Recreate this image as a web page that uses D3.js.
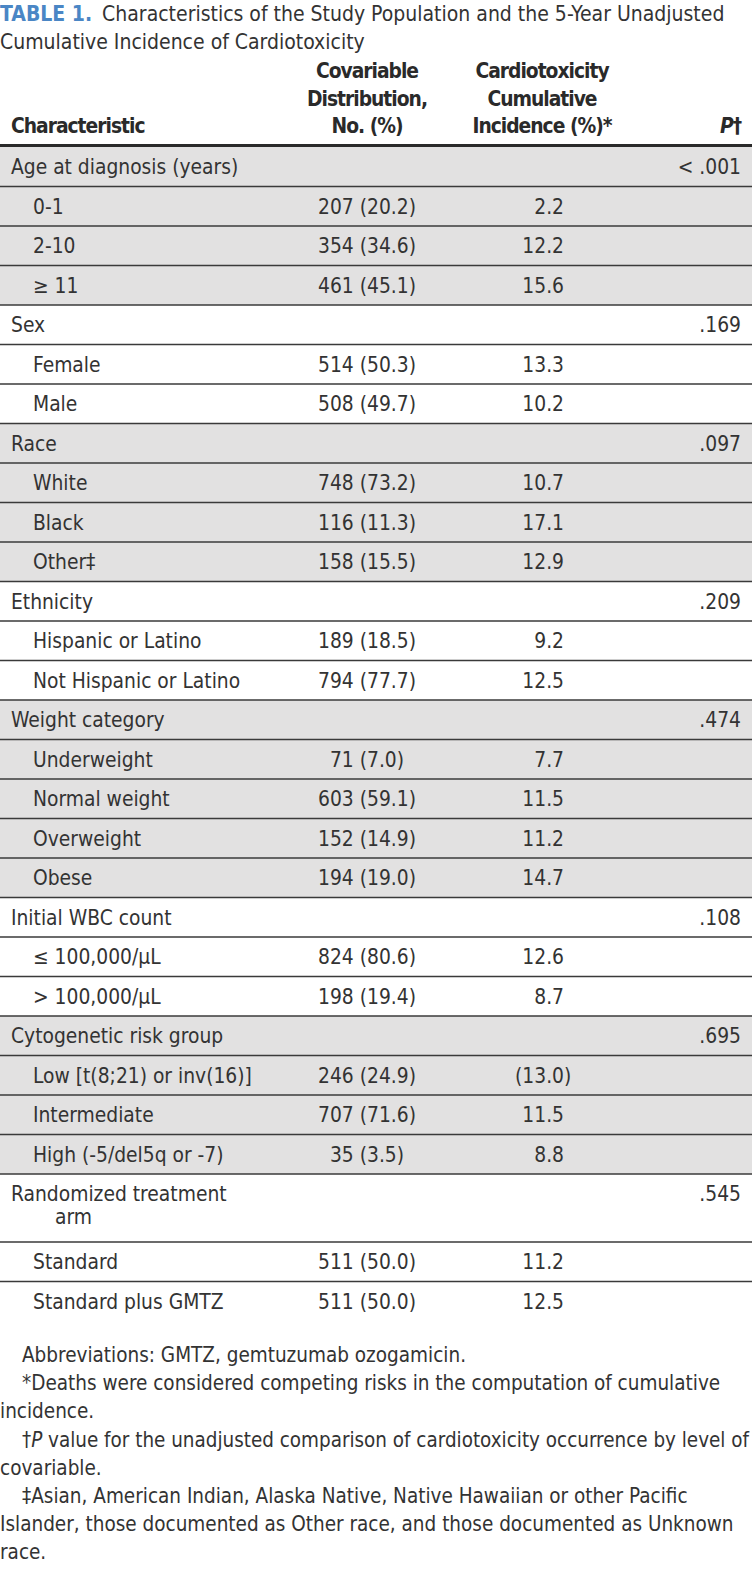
<!DOCTYPE html>
<html>
  <head>
    <meta charset="utf-8">
    <title>Table 1</title>
    <script src="https://cdn.jsdelivr.net/npm/d3@7/dist/d3.min.js"></script>
    <style>
      body { margin: 0; background: #fff; }
      text { font-family: "Liberation Sans Narrow", "DejaVu Sans Condensed", "Roboto", sans-serif; fill: #333; }
    </style>
  </head>
  <body>
    <svg width="752" height="1575" id="mainsvg"></svg>
    <script>
      const svg = d3.select('#mainsvg');
      const width = +svg.attr('width');

      // table content
      const titleLines = ['Characteristics of the Study Population and the 5-Year Unadjusted', 'Cumulative Incidence of Cardiotoxicity'];
      const headers = [
        ['Characteristic'],
        ['Covariable', 'Distribution,', 'No. (%)'],
        ['Cardiotoxicity', 'Cumulative', 'Incidence (%)*'],
        ['P†']
      ];
      const groupLabels = [['Age at diagnosis (years)'], ['Sex'], ['Race'], ['Ethnicity'], ['Weight category'],
        ['Initial WBC count'], ['Cytogenetic risk group'], ['Randomized treatment', 'arm']];
      const groupP = ['< .001', '.169', '.097', '.209', '.474', '.108', '.695', '.545'];
      const subLabels = [
        ['0-1', '2-10', '≥ 11'],
        ['Female', 'Male'],
        ['White', 'Black', 'Other‡'],
        ['Hispanic or Latino', 'Not Hispanic or Latino'],
        ['Underweight', 'Normal weight', 'Overweight', 'Obese'],
        ['≤ 100,000/μL', '> 100,000/μL'],
        ['Low [t(8;21) or inv(16)]', 'Intermediate', 'High (-5/del5q or -7)'],
        ['Standard', 'Standard plus GMTZ']
      ];
      const distribution = [
        ['207 (20.2)', '354 (34.6)', '461 (45.1)'],
        ['514 (50.3)', '508 (49.7)'],
        ['748 (73.2)', '116 (11.3)', '158 (15.5)'],
        ['189 (18.5)', '794 (77.7)'],
        ['71 (7.0)', '603 (59.1)', '152 (14.9)', '194 (19.0)'],
        ['824 (80.6)', '198 (19.4)'],
        ['246 (24.9)', '707 (71.6)', '35 (3.5)'],
        ['511 (50.0)', '511 (50.0)']
      ];
      const incidence = [
        ['2.2', '12.2', '15.6'],
        ['13.3', '10.2'],
        ['10.7', '17.1', '12.9'],
        ['9.2', '12.5'],
        ['7.7', '11.5', '11.2', '14.7'],
        ['12.6', '8.7'],
        ['(13.0)', '11.5', '8.8'],
        ['11.2', '12.5']
      ];
      const footnotes = [
        [22, 'Abbreviations: GMTZ, gemtuzumab ozogamicin.'],
        [22, '*Deaths were considered competing risks in the computation of cumulative'],
        [0, 'incidence.'],
        [22, '†_P_ value for the unadjusted comparison of cardiotoxicity occurrence by level of'],
        [0, 'covariable.'],
        [22, '‡Asian, American Indian, Alaska Native, Native Hawaiian or other Pacific'],
        [0, 'Islander, those documented as Other race, and those documented as Unknown'],
        [0, 'race.']
      ];

      const fontSize = 20.8;
      const noteSize = 20.5;
      const rowH = 39.5;
      const extraH = 28.5;   // added height for a wrapped label
      const wrapLineH = 22.5;
      const tableTop = 147;
      const shade = '#e2e1e1';

      // column anchors
      const colX = d3.scaleOrdinal()
        .domain(['label', 'sub', 'dist', 'inc', 'p'])
        .range([11, 33, 367, 564, 741]);

      // flatten rows
      const rows = [];
      groupLabels.forEach((lab, gi) => {
        rows.push({type: 'group', label: lab, p: groupP[gi], shaded: gi % 2 === 0});
        subLabels[gi].forEach((s, si) => {
          rows.push({type: 'sub', label: [s], dist: distribution[gi][si], inc: incidence[gi][si], shaded: gi % 2 === 0});
        });
      });
      let yCursor = tableTop;
      rows.forEach(r => {
        r.y = yCursor;
        r.h = rowH + (r.label.length - 1) * extraH;
        r.base = 27;
        yCursor += r.h;
      });

      // title
      const title = svg.append('text').attr('x', 0).attr('y', 21).style('font-size', '21px');
      title.append('tspan').text('TABLE 1.').style('font-weight', 'bold').style('fill', '#4a86c5');
      title.append('tspan').text(' ' + titleLines[0]).attr('dx', 4);
      svg.append('text').attr('x', 0).attr('y', 49).style('font-size', '21px').text(titleLines[1]);

      // headers
      const hx = [colX('label'), colX('dist'), 542, colX('p')];
      const hAnchor = ['start', 'middle', 'middle', 'end'];
      headers.forEach((lines, ci) => {
        lines.forEach((t, li) => {
          const yy = 133 - (lines.length - 1 - li) * 27.5;
          const tx = svg.append('text')
            .attr('x', hx[ci]).attr('y', yy)
            .attr('text-anchor', hAnchor[ci])
            .style('font-size', fontSize + 'px')
            .style('font-weight', 'bold')
            .style('letter-spacing', '-1px')
            .style('fill', '#2a2a2a');
          if (t === 'P†') {
            tx.append('tspan').text('P').style('font-style', 'italic');
            tx.append('tspan').text('†');
          } else {
            tx.text(t);
          }
        });
      });

      const g = svg.append('g');

      // row backgrounds
      g.selectAll('rect.bg')
        .data(rows.filter(r => r.shaded))
        .join('rect')
        .attr('class', 'bg')
        .attr('x', 0).attr('width', width)
        .attr('y', r => r.y).attr('height', r => r.h)
        .attr('fill', shade);

      // separators
      g.selectAll('line.sep')
        .data(rows.slice(0, -1))
        .join('line')
        .attr('class', 'sep')
        .attr('x1', 0).attr('x2', width)
        .attr('y1', r => r.y + r.h).attr('y2', r => r.y + r.h)
        .attr('stroke', '#3a3a3a').attr('stroke-width', 1.6);

      g.append('line')
        .attr('x1', 0).attr('x2', width)
        .attr('y1', 145.5).attr('y2', 145.5)
        .attr('stroke', '#2a2a2a').attr('stroke-width', 3.2);

      // labels
      rows.forEach(r => {
        r.label.forEach((t, li) => {
          let x = r.type === 'group' ? colX('label') : colX('sub');
          if (li > 0) x = 55;
          g.append('text')
            .attr('x', x).attr('y', r.y + r.base + li * wrapLineH)
            .style('font-size', fontSize + 'px')
            .text(t);
        });
      });

      // measure closing parenthesis for hanging values
      const probe = svg.append('text').style('font-size', fontSize + 'px').text(')');
      const parenW = probe.node().getComputedTextLength();
      probe.remove();

      const subRows = rows.filter(r => r.type === 'sub');
      g.selectAll('text.dist')
        .data(subRows)
        .join('text')
        .attr('class', 'dist')
        .attr('x', colX('dist')).attr('y', r => r.y + r.base)
        .attr('text-anchor', 'middle')
        .style('font-size', fontSize + 'px')
        .text(r => r.dist);

      g.selectAll('text.inc')
        .data(subRows)
        .join('text')
        .attr('class', 'inc')
        .attr('x', r => colX('inc') + (r.inc.endsWith(')') ? parenW : 0))
        .attr('y', r => r.y + r.base)
        .attr('text-anchor', 'end')
        .style('font-size', fontSize + 'px')
        .text(r => r.inc);

      g.selectAll('text.pval')
        .data(rows.filter(r => r.type === 'group'))
        .join('text')
        .attr('class', 'pval')
        .attr('x', colX('p')).attr('y', r => r.y + r.base)
        .attr('text-anchor', 'end')
        .style('font-size', fontSize + 'px')
        .text(r => r.p);

      // footnotes
      const fnTop = 1362;
      footnotes.forEach(([indent, str], i) => {
        const t = svg.append('text')
          .attr('x', indent).attr('y', fnTop + i * 28.2)
          .style('font-size', noteSize + 'px');
        str.split('_').forEach((part, pi) => {
          if (!part) return;
          t.append('tspan').text(part).style('font-style', pi % 2 === 1 ? 'italic' : 'normal');
        });
        // keep long lines inside the page
        const maxW = width - indent - 3;
        if (t.node().getComputedTextLength() > maxW) {
          t.attr('textLength', maxW).attr('lengthAdjust', 'spacingAndGlyphs');
        }
      });
    </script>
  </body>
</html>
